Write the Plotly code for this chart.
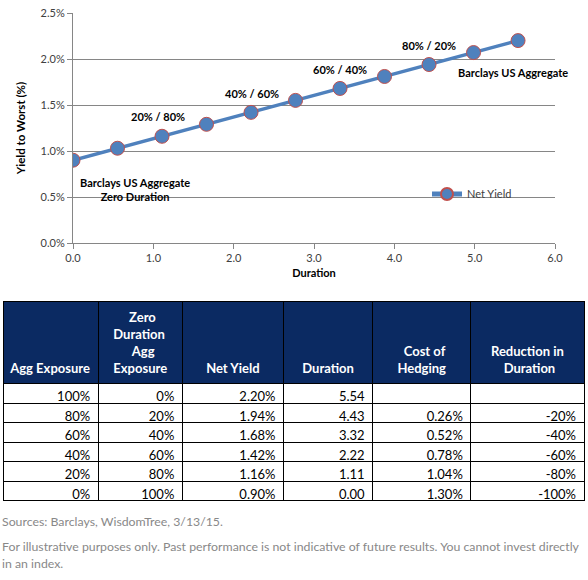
import plotly.graph_objects as go

# ---- chart data ----
chart_duration = [0.00, 0.554, 1.108, 1.662, 2.216, 2.77, 3.324, 3.878, 4.432, 4.986, 5.54]
chart_yield = [0.90, 1.03, 1.16, 1.29, 1.42, 1.55, 1.68, 1.81, 1.94, 2.07, 2.20]
series_name = "Net Yield"

# point labels: (duration, yield, text)
label_x = [1.06, 2.23, 3.32, 4.43, 5.48, 0.77]
label_y = [1.37, 1.63, 1.89, 2.15, 1.85, 0.58]
label_text = ["20% / 80%", "40% / 60%", "60% / 40%", "80% / 20%",
              "Barclays US Aggregate", "Barclays US Aggregate<br>Zero Duration"]

# ---- table data ----
header_labels = [
    ["Agg Exposure"],
    ["Zero", "Duration", "Agg", "Exposure"],
    ["Net Yield"],
    ["Duration"],
    ["Cost of", "Hedging"],
    ["Reduction in", "Duration"],
]
agg_exposure = [100, 80, 60, 40, 20, 0]
zero_dur_exposure = [0, 20, 40, 60, 80, 100]
net_yield = [2.20, 1.94, 1.68, 1.42, 1.16, 0.90]
duration = [5.54, 4.43, 3.32, 2.22, 1.11, 0.00]
cost_hedging = [None, 0.26, 0.52, 0.78, 1.04, 1.30]
reduction = [None, -20, -40, -60, -80, -100]

footnote_lines = [
    "Sources: Barclays, WisdomTree, 3/13/15.",
    "For illustrative purposes only. Past performance is not indicative of future results. You cannot invest directly",
    "in an index.",
]

W, H = 588, 580
FONT = "Lato"
BLUE = "#4F81BD"
RED = "#C0504D"
NAVY = "#0B2A62"

# approximate Lato Bold advance widths (em) for centring header lines
_GW = {"a": .52, "b": .56, "c": .46, "d": .56, "e": .52, "f": .33, "g": .50, "h": .56,
       "i": .25, "l": .25, "n": .56, "o": .56, "p": .56, "r": .37, "s": .42, "t": .35,
       "u": .56, "x": .50, "A": .66, "C": .64, "D": .72, "E": .58, "H": .74, "R": .63,
       "Z": .60, "N": .72, "Y": .60, " ": .19}


def text_w(s):
    return sum(_GW.get(ch, .55) for ch in s)


def px_x(p):
    return p / W


def px_y(p):
    return 1 - p / H


fig = go.Figure()

fig.add_trace(go.Scatter(
    x=chart_duration,
    y=[v / 100 for v in chart_yield],
    mode="lines+markers",
    name=series_name,
    line=dict(color=BLUE, width=3.5),
    marker=dict(size=14, color=BLUE, line=dict(color=RED, width=1)),
))

# ---- table ----
n_hdr_rows = max(len(h) for h in header_labels)
hdr = []
for h in header_labels:
    wmax = max(text_w(t) for t in h)
    lines = []
    for t in h:
        pad = int(round((wmax - text_w(t)) / 2 / _GW[" "]))
        lines.append("\u00a0" * pad + t)
    lines = ["\u00a0"] * (n_hdr_rows - len(h)) + lines
    hdr.append("<b>" + "<br>".join(lines) + "</b>")


def pct0(v):
    return "" if v is None else f"{v:.0f}%"


def pct2(v):
    return "" if v is None else f"{v:.2f}%"


cells = [
    [pct0(v) for v in agg_exposure],
    [pct0(v) for v in zero_dur_exposure],
    [pct2(v) for v in net_yield],
    [f"{v:.2f}" for v in duration],
    [pct2(v) for v in cost_hedging],
    [pct0(v) for v in reduction],
]

fig.add_trace(go.Table(
    domain=dict(x=[px_x(3), px_x(584)], y=[px_y(502), px_y(301)]),
    columnwidth=[95, 84, 101, 89, 98, 113],
    header=dict(
        values=hdr,
        fill_color=NAVY,
        line=dict(color="black", width=1),
        align="center",
        font=dict(family=FONT, size=13, color="white"),
        height=80,
    ),
    cells=dict(
        values=cells,
        fill_color="white",
        line=dict(color="black", width=1),
        align="right",
        font=dict(family=FONT, size=13, color="black"),
        height=19.5,
    ),
))

for x, y, t in zip(label_x, label_y, label_text):
    fig.add_annotation(x=x, y=y / 100, xref="x", yref="y", text="<b>" + t + "</b>",
                       showarrow=False, font=dict(family=FONT, size=11, color="black"),
                       align="center")

for i, line in enumerate(footnote_lines):
    fig.add_annotation(x=0, y=px_y([521, 546, 563][i]), xref="paper", yref="paper",
                       xanchor="left", yanchor="middle", text=line, showarrow=False,
                       font=dict(family=FONT, size=12.3, color="#888888"))

fig.update_layout(
    width=W, height=H,
    autosize=False,
    margin=dict(l=0, r=0, t=0, b=0, autoexpand=False),
    paper_bgcolor="white",
    plot_bgcolor="white",
    font=dict(family=FONT, size=11, color="#404040"),
    showlegend=True,
    legend=dict(x=px_x(427), y=px_y(194), xanchor="left", yanchor="middle",
                bgcolor="rgba(0,0,0,0)", font=dict(family=FONT, size=11, color="#404040"),
                itemwidth=30, itemsizing="constant"),
    xaxis=dict(
        domain=[px_x(73), px_x(555)],
        range=[0, 6], dtick=1, tickformat=".1f",
        showgrid=False, zeroline=False,
        showline=True, linecolor="#868686", linewidth=1,
        ticks="outside", ticklen=5, tickcolor="#868686",
        tickfont=dict(family=FONT, size=11, color="#404040"),
        title=dict(text="<b>Duration</b>", font=dict(family=FONT, size=11, color="black"), standoff=6),
        automargin=False,
        fixedrange=True,
    ),
    yaxis=dict(
        domain=[px_y(243), px_y(13)],
        range=[0, 0.025], dtick=0.005, tickformat=".1%",
        showgrid=True, gridcolor="#868686", gridwidth=1, zeroline=False,
        showline=True, linecolor="#868686", linewidth=1,
        ticks="outside", ticklen=5, tickcolor="#868686",
        tickfont=dict(family=FONT, size=11, color="#404040"),
        title=dict(text="<b>Yield to Worst (%)</b>", font=dict(family=FONT, size=11.5, color="black"), standoff=12),
        automargin=False,
        fixedrange=True,
    ),
)

fig.write_html(
    "out.html",
    config={"responsive": False, "displayModeBar": False},
    post_script="document.body.style.margin='0';document.body.style.overflow='hidden';",
)
